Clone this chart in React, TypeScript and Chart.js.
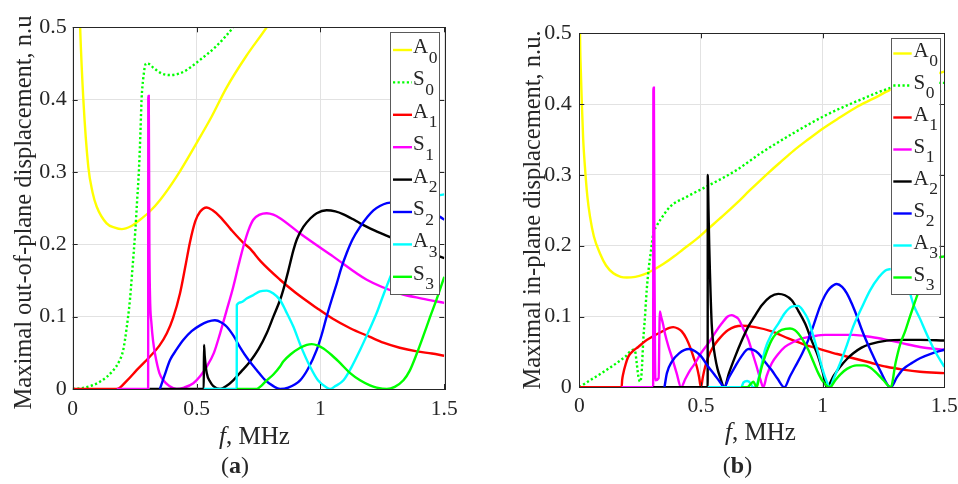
import React, { useEffect, useRef } from 'react';
import { Chart, registerables } from 'chart.js';

Chart.register(...registerables);

type Pt = [number, number];

// ---------- tick values ----------
const FREQ_TICKS = [0, 0.5, 1, 1.5];
const DISP_TICKS = [0, 0.1, 0.2, 0.3, 0.4, 0.5];

// ---------- mode names ----------
const MODE_LETTERS = ['A', 'S', 'A', 'S', 'A', 'S', 'A', 'S'];
const MODE_INDEX = ['0', '0', '1', '1', '2', '2', '3', '3'];
const MODE_COLORS = ['#FFFF00', '#00FF00', '#FF0000', '#FF00FF', '#000000', '#0000FF', '#00FFFF', '#00FF00'];

// ---------- (a) maximal out-of-plane displacement ----------
const OUT_A0: Pt[] = [[0.025,0.56],[0.03,0.5],[0.043,0.4],[0.063,0.307],[0.08,0.272],[0.097,0.252],[0.137,0.229],[0.17,0.223],[0.198,0.221],[0.235,0.225],[0.272,0.234],[0.31,0.245],[0.352,0.261],[0.42,0.294],[0.5,0.34],[0.56,0.376],[0.62,0.416],[0.7,0.46],[0.783,0.5],[0.82,0.52]];
const OUT_S0: Pt[] = [[0,0],[0.05,0.002],[0.11,0.01],[0.164,0.026],[0.19,0.04],[0.204,0.054],[0.218,0.085],[0.231,0.123],[0.242,0.17],[0.252,0.215],[0.26,0.26],[0.268,0.307],[0.274,0.36],[0.278,0.4],[0.285,0.43],[0.296,0.45],[0.31,0.449],[0.326,0.444],[0.36,0.436],[0.393,0.434],[0.43,0.436],[0.46,0.441],[0.514,0.455],[0.58,0.474],[0.648,0.5],[0.68,0.515]];
const OUT_A1: Pt[] = [[0,0],[0.178,0],[0.22,0.012],[0.258,0.026],[0.312,0.045],[0.35,0.06],[0.38,0.077],[0.405,0.098],[0.433,0.132],[0.455,0.17],[0.474,0.204],[0.495,0.232],[0.514,0.245],[0.541,0.251],[0.565,0.247],[0.595,0.238],[0.64,0.22],[0.689,0.202],[0.716,0.194],[0.76,0.176],[0.837,0.151],[0.9,0.133],[0.985,0.112],[1.05,0.097],[1.12,0.084],[1.2,0.072],[1.254,0.064],[1.32,0.057],[1.389,0.052],[1.45,0.049],[1.5,0.046]];
const OUT_S1: Pt[] = [[0.178,0],[0.3045,0],[0.3052,0.405],[0.307,0.405],[0.3095,0.2],[0.312,0.13],[0.318,0.09],[0.325,0.065],[0.332,0.049],[0.35,0.022],[0.366,0.012],[0.39,0.004],[0.42,0],[0.45,0.002],[0.487,0.008],[0.515,0.018],[0.541,0.031],[0.57,0.05],[0.595,0.077],[0.62,0.107],[0.648,0.141],[0.67,0.172],[0.689,0.197],[0.71,0.22],[0.729,0.234],[0.755,0.241],[0.783,0.243],[0.81,0.241],[0.837,0.236],[0.918,0.215],[1.052,0.183],[1.187,0.151],[1.321,0.132],[1.41,0.125],[1.5,0.119]];
const OUT_A2: Pt[] = [[0.31,0],[0.529,0],[0.53,0.061],[0.533,0.045],[0.541,0.022],[0.555,0.01],[0.568,0.004],[0.595,0],[0.62,0.004],[0.648,0.012],[0.68,0.024],[0.716,0.038],[0.75,0.055],[0.783,0.077],[0.81,0.1],[0.837,0.123],[0.85,0.137],[0.87,0.163],[0.891,0.192],[0.905,0.207],[0.931,0.224],[0.96,0.236],[0.985,0.243],[1.025,0.247],[1.06,0.2455],[1.093,0.2415],[1.13,0.235],[1.16,0.229],[1.22,0.219],[1.281,0.21],[1.35,0.2],[1.42,0.19],[1.483,0.183],[1.5,0.181]];
const OUT_S2: Pt[] = [[0.352,0],[0.37,0.018],[0.393,0.04],[0.42,0.055],[0.447,0.068],[0.48,0.08],[0.514,0.088],[0.545,0.093],[0.574,0.095],[0.6,0.092],[0.622,0.086],[0.65,0.073],[0.675,0.058],[0.71,0.04],[0.743,0.026],[0.775,0.013],[0.81,0.004],[0.837,0],[0.87,0.002],[0.918,0.012],[0.95,0.028],[0.985,0.054],[1.005,0.075],[1.025,0.1],[1.045,0.123],[1.066,0.146],[1.085,0.168],[1.106,0.188],[1.13,0.207],[1.16,0.224],[1.19,0.238],[1.214,0.247],[1.24,0.253],[1.268,0.257],[1.3,0.258],[1.35,0.255],[1.42,0.247],[1.483,0.238],[1.5,0.234]];
const OUT_A3: Pt[] = [[0.529,0],[0.662,0],[0.6625,0.116],[0.68,0.12],[0.702,0.125],[0.73,0.13],[0.756,0.135],[0.783,0.136],[0.81,0.132],[0.837,0.123],[0.86,0.108],[0.891,0.086],[0.92,0.06],[0.958,0.031],[0.99,0.012],[1.025,0.002],[1.039,0],[1.06,0.004],[1.093,0.012],[1.125,0.03],[1.16,0.054],[1.195,0.08],[1.227,0.105],[1.254,0.13],[1.3,0.17],[1.35,0.21],[1.4,0.24],[1.45,0.262],[1.483,0.268],[1.5,0.269]];
const OUT_S3: Pt[] = [[0.662,0],[0.743,0],[0.76,0.004],[0.783,0.012],[0.81,0.02],[0.837,0.031],[0.85,0.038],[0.88,0.048],[0.918,0.057],[0.945,0.061],[0.965,0.062],[0.99,0.06],[1.012,0.056],[1.045,0.047],[1.079,0.036],[1.12,0.022],[1.16,0.012],[1.2,0.005],[1.227,0.002],[1.268,0],[1.3,0.003],[1.335,0.012],[1.36,0.025],[1.389,0.049],[1.415,0.073],[1.443,0.1],[1.47,0.125],[1.5,0.155]];

// ---------- (b) maximal in-plane displacement ----------
const IN_A0: Pt[] = [[0.002,0.56],[0.003,0.5],[0.006,0.45],[0.01,0.406],[0.016,0.35],[0.023,0.312],[0.033,0.27],[0.044,0.241],[0.06,0.213],[0.085,0.189],[0.11,0.172],[0.14,0.161],[0.17,0.156],[0.195,0.155],[0.23,0.156],[0.263,0.159],[0.3,0.165],[0.345,0.174],[0.39,0.185],[0.427,0.195],[0.48,0.209],[0.53,0.224],[0.59,0.242],[0.647,0.26],[0.7,0.278],[0.743,0.292],[0.784,0.305],[0.83,0.319],[0.88,0.334],[0.94,0.35],[1.003,0.366],[1.07,0.381],[1.14,0.396],[1.21,0.408],[1.277,0.42],[1.35,0.43],[1.42,0.438],[1.5,0.446]];
const IN_S0: Pt[] = [[0,0],[0.04,0.009],[0.092,0.02],[0.14,0.031],[0.188,0.043],[0.222,0.053],[0.23,0.05],[0.236,0.034],[0.243,0.015],[0.25,0.008],[0.256,0.02],[0.263,0.067],[0.27,0.1],[0.277,0.137],[0.286,0.17],[0.295,0.194],[0.304,0.217],[0.318,0.228],[0.332,0.236],[0.373,0.255],[0.441,0.269],[0.537,0.286],[0.647,0.307],[0.743,0.33],[0.88,0.359],[1.017,0.385],[1.154,0.406],[1.29,0.424],[1.4,0.43],[1.5,0.43]];
const IN_A1: Pt[] = [[0,0],[0.174,0],[0.176,0.01],[0.181,0.02],[0.19,0.032],[0.201,0.043],[0.22,0.051],[0.242,0.057],[0.27,0.065],[0.298,0.071],[0.33,0.077],[0.352,0.081],[0.37,0.084],[0.386,0.085],[0.405,0.083],[0.421,0.079],[0.44,0.069],[0.455,0.057],[0.47,0.042],[0.483,0.029],[0.492,0.015],[0.5,0],[0.508,0.015],[0.518,0.03],[0.53,0.043],[0.55,0.057],[0.571,0.067],[0.612,0.081],[0.667,0.087],[0.722,0.085],[0.791,0.079],[0.859,0.069],[0.928,0.06],[0.989,0.054],[1.06,0.047],[1.126,0.041],[1.195,0.035],[1.263,0.029],[1.33,0.025],[1.4,0.022],[1.5,0.02]];
const IN_S1: Pt[] = [[0.174,0],[0.3035,0],[0.3045,0.423],[0.3065,0.423],[0.3085,0.2],[0.311,0.05],[0.313,0.01],[0.326,0.013],[0.331,0.107],[0.336,0.1],[0.345,0.088],[0.352,0.076],[0.366,0.058],[0.38,0.043],[0.4,0.02],[0.418,0],[0.436,0.012],[0.455,0.024],[0.476,0.034],[0.496,0.046],[0.53,0.062],[0.56,0.078],[0.585,0.09],[0.61,0.1],[0.626,0.102],[0.64,0.1],[0.653,0.097],[0.675,0.082],[0.695,0.067],[0.712,0.048],[0.729,0.029],[0.745,0.01],[0.756,0],[0.77,0.016],[0.791,0.034],[0.815,0.046],[0.845,0.057],[0.88,0.064],[0.914,0.069],[0.96,0.072],[1.01,0.074],[1.07,0.074],[1.126,0.074],[1.2,0.071],[1.263,0.067],[1.33,0.062],[1.4,0.057],[1.5,0.053]];
const IN_A2: Pt[] = [[0.304,0],[0.5275,0],[0.528,0.3],[0.531,0.25],[0.534,0.2],[0.537,0.161],[0.544,0.09],[0.551,0.06],[0.558,0.043],[0.568,0.026],[0.578,0.015],[0.596,0],[0.615,0.02],[0.64,0.043],[0.665,0.064],[0.695,0.086],[0.72,0.1],[0.75,0.116],[0.785,0.128],[0.818,0.132],[0.845,0.13],[0.873,0.123],[0.9,0.108],[0.928,0.09],[0.955,0.066],[0.982,0.043],[1.0,0.022],[1.017,0],[1.045,0.016],[1.072,0.029],[1.1,0.04],[1.126,0.048],[1.16,0.056],[1.195,0.061],[1.263,0.066],[1.33,0.067],[1.4,0.067],[1.5,0.066]];
const IN_S2: Pt[] = [[0.35,0],[0.36,0.02],[0.38,0.036],[0.41,0.048],[0.45,0.054],[0.476,0.051],[0.5,0.044],[0.53,0.029],[0.555,0.018],[0.575,0.009],[0.596,0],[0.615,0.014],[0.64,0.029],[0.665,0.043],[0.695,0.054],[0.715,0.053],[0.736,0.048],[0.765,0.035],[0.791,0.024],[0.815,0.012],[0.843,0],[0.865,0.015],[0.887,0.029],[0.915,0.047],[0.941,0.067],[0.965,0.09],[0.989,0.114],[1.01,0.13],[1.03,0.14],[1.058,0.146],[1.08,0.142],[1.099,0.133],[1.13,0.11],[1.167,0.076],[1.2,0.05],[1.236,0.024],[1.28,0],[1.305,0.014],[1.332,0.026],[1.37,0.035],[1.4,0.041],[1.45,0.048],[1.5,0.053]];
const IN_A3: Pt[] = [[0.528,0],[0.665,0],[0.675,0.007],[0.69,0.009],[0.705,0.005],[0.712,0],[0.725,0],[0.735,0.01],[0.748,0.03],[0.763,0.053],[0.79,0.075],[0.818,0.09],[0.845,0.105],[0.873,0.114],[0.9,0.115],[0.92,0.108],[0.941,0.095],[0.962,0.072],[0.982,0.048],[1.0,0.025],[1.017,0.008],[1.03,0],[1.045,0.012],[1.072,0.034],[1.1,0.06],[1.126,0.086],[1.16,0.112],[1.195,0.137],[1.23,0.155],[1.263,0.166],[1.29,0.167],[1.32,0.158],[1.345,0.145],[1.359,0.133],[1.373,0.117],[1.4,0.097],[1.428,0.075],[1.46,0.052],[1.5,0.029]];
const IN_S3: Pt[] = [[0.665,0],[0.69,0],[0.705,0.005],[0.715,0.008],[0.722,0.004],[0.729,0],[0.738,0.012],[0.75,0.029],[0.77,0.05],[0.791,0.067],[0.81,0.076],[0.832,0.081],[0.866,0.083],[0.885,0.081],[0.9,0.076],[0.92,0.066],[0.941,0.053],[0.962,0.036],[0.982,0.02],[1.0,0.009],[1.03,0],[1.05,0.009],[1.072,0.018],[1.1,0.026],[1.14,0.031],[1.17,0.031],[1.195,0.028],[1.225,0.019],[1.25,0.01],[1.28,0],[1.3,0.035],[1.318,0.06],[1.34,0.08],[1.359,0.1],[1.4,0.14],[1.44,0.17],[1.47,0.182],[1.5,0.185]];

const OUT_SERIES = [OUT_A0, OUT_S0, OUT_A1, OUT_S1, OUT_A2, OUT_S2, OUT_A3, OUT_S3];
const IN_SERIES = [IN_A0, IN_S0, IN_A1, IN_S1, IN_A2, IN_S2, IN_A3, IN_S3];

const Y_TITLE_A = 'Maximal out-of-plane displacement, n.u';
const Y_TITLE_B = 'Maximal in-plane displacement, n.u.';
const X_TITLE_ITALIC = 'f';
const X_TITLE_REST = ', MHz';

const FONT = '"Liberation Serif", "Times New Roman", serif';
const TEXT = '#262626';

interface Layout {
  w: number; h: number;
  left: number; right: number; top: number; bottom: number;
  yTitle: string; yTitleX: number; yTitleY: number;
  xTitleX: number; xTitleY: number;
  tag: string; tagX: number; tagY: number;
  legBox: [number, number, number, number];
  legFirst: number; legStep: number; legLine: [number, number]; legText: number;
  xPad: number; yPad: number;
}

const LAYOUT_A: Layout = {
  w: 479, h: 484, left: 72.7, right: 444.3, top: 27.3, bottom: 389,
  yTitle: Y_TITLE_A, yTitleX: 31, yTitleY: 212.5,
  xTitleX: 219, xTitleY: 444,
  tag: 'a', tagX: 235, tagY: 473,
  legBox: [390, 32.3, 439.3, 294], legFirst: 50, legStep: 32.4, legLine: [393, 412], legText: 413,
  xPad: 7, yPad: 6,
};
const LAYOUT_B: Layout = {
  w: 479, h: 484, left: 100.3, right: 465.3, top: 33.3, bottom: 387.3,
  yTitle: Y_TITLE_B, yTitleX: 61, yTitleY: 210,
  xTitleX: 246, xTitleY: 440,
  tag: 'b', tagX: 258.5, tagY: 473,
  legBox: [411.7, 37.7, 460.3, 294], legFirst: 53.5, legStep: 32, legLine: [414.3, 432.7], legText: 434.5,
  xPad: 6, yPad: 7.5,
};

function makeDecor(L: Layout) {
  return {
    id: 'decor',
    afterDraw(chart: any) {
      const ctx: CanvasRenderingContext2D = chart.ctx;
      const a = chart.chartArea;
      const xs = chart.scales.x;
      const ys = chart.scales.y;
      ctx.save();
      // frame
      ctx.strokeStyle = TEXT;
      ctx.lineWidth = 1;
      ctx.strokeRect(Math.round(a.left) + 0.5, Math.round(a.top) + 0.5, Math.round(a.right - a.left), Math.round(a.bottom - a.top));
      // inner ticks
      ctx.beginPath();
      for (const v of FREQ_TICKS) {
        const x = Math.round(xs.getPixelForValue(v)) + 0.5;
        ctx.moveTo(x, a.bottom); ctx.lineTo(x, a.bottom - 5);
        ctx.moveTo(x, a.top); ctx.lineTo(x, a.top + 5);
      }
      for (const v of DISP_TICKS) {
        const y = Math.round(ys.getPixelForValue(v)) + 0.5;
        ctx.moveTo(a.left, y); ctx.lineTo(a.left + 5, y);
        ctx.moveTo(a.right, y); ctx.lineTo(a.right - 5, y);
      }
      ctx.stroke();

      // legend
      const [bx0, by0, bx1, by1] = L.legBox;
      ctx.fillStyle = '#ffffff';
      ctx.fillRect(bx0, by0, bx1 - bx0, by1 - by0);
      ctx.strokeStyle = '#5a5a5a';
      ctx.lineWidth = 1;
      ctx.strokeRect(Math.round(bx0) + 0.5, Math.round(by0) + 0.5, Math.round(bx1 - bx0), Math.round(by1 - by0));
      chart.data.datasets.forEach((ds: any, i: number) => {
        const yc = L.legFirst + i * L.legStep;
        ctx.beginPath();
        ctx.strokeStyle = ds.borderColor;
        ctx.lineWidth = 2.4;
        ctx.setLineDash(ds.borderDash || []);
        ctx.moveTo(L.legLine[0], yc);
        ctx.lineTo(L.legLine[1], yc);
        ctx.stroke();
        ctx.setLineDash([]);
        ctx.fillStyle = TEXT;
        ctx.textBaseline = 'alphabetic';
        ctx.textAlign = 'left';
        ctx.font = `21px ${FONT}`;
        ctx.fillText(MODE_LETTERS[i], L.legText, yc + 3);
        const wA = ctx.measureText(MODE_LETTERS[i]).width;
        ctx.font = `17.5px ${FONT}`;
        ctx.fillText(MODE_INDEX[i], L.legText + wA + 0.5, yc + 12.5);
      });

      // y title
      ctx.fillStyle = TEXT;
      ctx.font = `24.5px ${FONT}`;
      ctx.save();
      ctx.translate(L.yTitleX, L.yTitleY);
      ctx.rotate(-Math.PI / 2);
      ctx.textAlign = 'center';
      ctx.textBaseline = 'alphabetic';
      ctx.fillText(L.yTitle, 0, 0);
      ctx.restore();

      // x title
      ctx.textAlign = 'left';
      ctx.textBaseline = 'alphabetic';
      ctx.font = `italic 25px ${FONT}`;
      ctx.fillText(X_TITLE_ITALIC, L.xTitleX, L.xTitleY);
      const wf = ctx.measureText(X_TITLE_ITALIC).width;
      ctx.font = `25px ${FONT}`;
      ctx.fillText(X_TITLE_REST, L.xTitleX + wf, L.xTitleY);

      // panel tag
      ctx.font = `24px ${FONT}`;
      const wp = ctx.measureText('(').width;
      ctx.font = `bold 24px ${FONT}`;
      const wt = ctx.measureText(L.tag).width;
      const x0 = L.tagX - (2 * wp + wt) / 2;
      ctx.font = `24px ${FONT}`;
      ctx.fillText('(', x0, L.tagY);
      ctx.font = `bold 24px ${FONT}`;
      ctx.fillText(L.tag, x0 + wp, L.tagY);
      ctx.font = `24px ${FONT}`;
      ctx.fillText(')', x0 + wp + wt, L.tagY);
      ctx.restore();
    },
  };
}

function Panel({ series, layout, offset }: { series: Pt[][]; layout: Layout; offset: number }) {
  const ref = useRef<HTMLCanvasElement | null>(null);
  useEffect(() => {
    if (!ref.current) return;
    const L = layout;
    const chart = new Chart(ref.current, {
      type: 'line',
      data: {
        datasets: series.map((pts, i) => ({
          label: MODE_LETTERS[i] + MODE_INDEX[i],
          data: pts.map(([x, y]) => ({ x, y })),
          borderColor: MODE_COLORS[i],
          backgroundColor: MODE_COLORS[i],
          borderWidth: 2.4,
          borderDash: i === 1 ? [2.2, 2.4] : [],
          pointRadius: 0,
          fill: false,
          cubicInterpolationMode: 'monotone' as const,
          order: series.length - 1 - i,
        })),
      },
      options: {
        animation: false,
        responsive: false,
        maintainAspectRatio: false,
        events: [],
        layout: { padding: { left: 0, top: L.top, right: L.w - L.right, bottom: 0 } },
        plugins: { legend: { display: false }, tooltip: { enabled: false } },
        scales: {
          x: {
            type: 'linear', min: 0, max: 1.5,
            afterBuildTicks: (s: any) => { s.ticks = FREQ_TICKS.map((v) => ({ value: v })); },
            afterFit: (s: any) => { s.height = L.h - L.bottom; s.paddingLeft = 0; s.paddingRight = 0; },
            grid: { color: '#e2e2e2', lineWidth: 1, drawTicks: false },
            border: { display: false },
            ticks: { padding: L.xPad, color: TEXT, font: { family: FONT, size: 21.5 }, maxRotation: 0, autoSkip: false, callback: (v: any) => String(v) },
          },
          y: {
            type: 'linear', min: 0, max: 0.5,
            afterBuildTicks: (s: any) => { s.ticks = DISP_TICKS.map((v) => ({ value: v })); },
            afterFit: (s: any) => { s.width = L.left; s.paddingTop = 0; s.paddingBottom = 0; },
            grid: { color: '#e2e2e2', lineWidth: 1, drawTicks: false },
            border: { display: false },
            ticks: { padding: L.yPad, color: TEXT, font: { family: FONT, size: 22 }, autoSkip: false, callback: (v: any) => String(v) },
          },
        },
      },
      plugins: [makeDecor(L)],
    } as any);
    return () => chart.destroy();
  }, [series, layout]);
  return (
    <canvas
      ref={ref}
      width={layout.w}
      height={layout.h}
      style={{ position: 'absolute', left: offset, top: 0, width: layout.w, height: layout.h, display: 'block' }}
    />
  );
}

export default function App() {
  useEffect(() => {
    document.body.style.margin = '0';
    document.body.style.background = '#ffffff';
  }, []);
  return (
    <div style={{ position: 'relative', width: 958, height: 484, background: '#ffffff', overflow: 'hidden' }}>
      <Panel series={OUT_SERIES} layout={LAYOUT_A} offset={0} />
      <Panel series={IN_SERIES} layout={LAYOUT_B} offset={479} />
    </div>
  );
}
